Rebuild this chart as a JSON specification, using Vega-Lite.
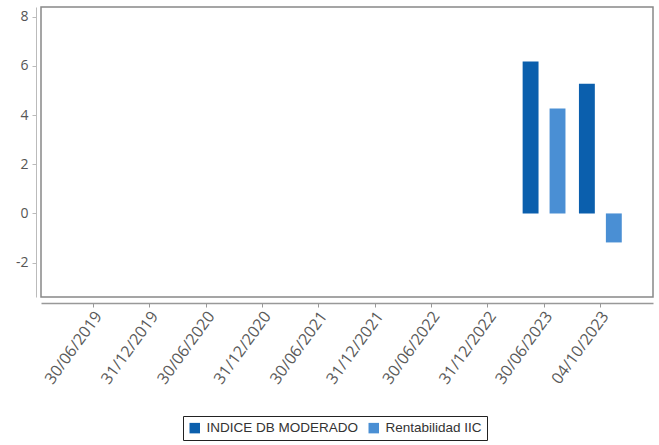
{
  "$schema": "https://vega.github.io/schema/vega-lite/v6.json",
  "width": 612,
  "height": 290,
  "autosize": {"type": "none"},
  "padding": {"left": 41, "top": 7, "right": 6, "bottom": 148},
  "background": "white",
  "config": {
    "view": {"stroke": "#888888", "strokeWidth": 1.5},
    "font": "Open Sans"
  },
  "data": {
    "values": [
      {"fecha": "30/06/2023", "serie": "INDICE DB MODERADO", "valor": 6.18},
      {"fecha": "30/06/2023", "serie": "Rentabilidad IIC", "valor": 4.27},
      {"fecha": "04/10/2023", "serie": "INDICE DB MODERADO", "valor": 5.28},
      {"fecha": "04/10/2023", "serie": "Rentabilidad IIC", "valor": -1.18}
    ]
  },
  "mark": {"type": "bar"},
  "encoding": {
    "x": {
      "field": "fecha",
      "type": "nominal",
      "scale": {
        "domain": ["30/06/2019", "31/12/2019", "30/06/2020", "31/12/2020", "30/06/2021", "31/12/2021", "30/06/2022", "31/12/2022", "30/06/2023", "04/10/2023"],
        "paddingInner": 0,
        "paddingOuter": 0.435
      },
      "axis": {
        "title": null,
        "offset": 6,
        "labelAngle": -54,
        "labelAlign": "right",
        "labelBaseline": "middle",
        "labelPadding": 6,
        "labelOffset": 5,
        "labelFontSize": 16,
        "labelColor": "#5a5a5a",
        "domainColor": "#999999",
        "domainWidth": 1.5,
        "tickColor": "#999999",
        "tickSize": 4,
        "grid": false
      }
    },
    "xOffset": {
      "field": "serie",
      "type": "nominal",
      "scale": {"paddingInner": 0.41, "paddingOuter": 0.25}
    },
    "y": {
      "field": "valor",
      "type": "quantitative",
      "stack": null,
      "scale": {"domain": [-3.4, 8.4], "nice": false, "zero": true},
      "axis": {
        "title": null,
        "values": [-2, 0, 2, 4, 6, 8],
        "labelExpr": "toString(datum.value)",
        "offset": 5,
        "grid": false,
        "labelFontSize": 14,
        "labelColor": "#555555",
        "labelPadding": 4,
        "domainColor": "#bbbbbb",
        "tickColor": "#bbbbbb",
        "tickSize": 4
      }
    },
    "color": {
      "field": "serie",
      "type": "nominal",
      "scale": {
        "domain": ["INDICE DB MODERADO", "Rentabilidad IIC"],
        "range": ["#0b5fad", "#4a8fd4"]
      },
      "legend": {
        "title": null,
        "orient": "none",
        "legendX": 142,
        "legendY": 409,
        "direction": "horizontal",
        "symbolType": "square",
        "symbolSize": 110,
        "symbolStrokeWidth": 0,
        "labelFont": "Liberation Sans",
        "labelFontSize": 13.5,
        "labelColor": "#333333",
        "columnPadding": 8,
        "labelOffset": 5,
        "padding": 5,
        "strokeColor": "#222222"
      }
    }
  }
}
